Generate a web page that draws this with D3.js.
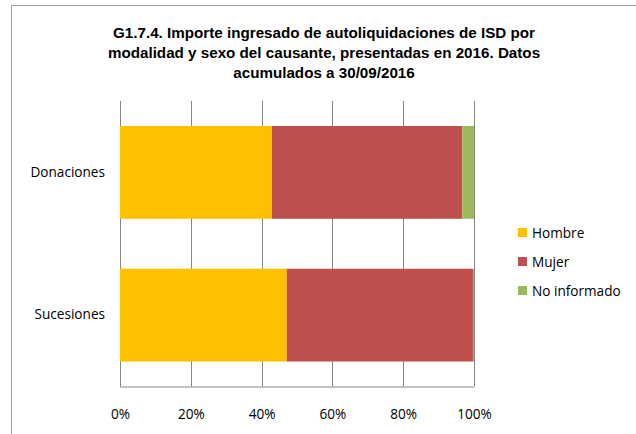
<!DOCTYPE html>
<html>
<head>
<meta charset="utf-8">
<script src="https://cdn.jsdelivr.net/npm/d3@7"></script>
<style>
  body { margin: 0; background: #fff; }
  svg { display: block; }
</style>
</head>
<body>
<div id="chart"></div>
<script>
// data
const categories = ["Donaciones", "Sucesiones"];
const seriesNames = ["Hombre", "Mujer", "No informado"];
const hombre = [42.9, 47.1];
const mujer = [53.8, 52.6];
const noInformado = [3.3, 0.3];
const xTicks = [0, 20, 40, 60, 80, 100];
const titleLines = [
    "G1.7.4. Importe ingresado de autoliquidaciones de ISD por",
    "modalidad y sexo del causante, presentadas en 2016. Datos",
    "acumulados a 30/09/2016"
];

const colors = ["#FFC000", "#C0504D", "#9BBB59"];
const gridColor = "#868686";
const labelFont = "Open Sans, sans-serif";
const labelSize = "13.6px";

const W = 636, H = 434;
const margin = {top: 101, left: 120, right: 162, bottom: 47};
const width = 474 - margin.left,
    height = 386.5 - margin.top;

const svg = d3.select("#chart")
    .append("svg")
    .attr("width", W)
    .attr("height", H);

// outer chart frame (only top/left visible in the crop)
svg.append("rect")
    .attr("x", 11.5)
    .attr("y", 5.5)
    .attr("width", 800)
    .attr("height", 600)
    .attr("fill", "none")
    .attr("stroke", "#a0a0a0")
    .attr("stroke-width", 1);

// title
const title = svg.append("text")
    .attr("text-anchor", "middle")
    .attr("font-family", "Liberation Sans, Arial, sans-serif")
    .attr("font-weight", "bold")
    .attr("font-size", "15.2px")
    .attr("fill", "#000");
titleLines.forEach((line, i) => {
    title.append("tspan")
        .attr("x", 324)
        .attr("y", 38 + i * 20)
        .text(line);
});

const g = svg.append("g")
    .attr("transform", `translate(${margin.left},${margin.top})`);

const x = d3.scaleLinear()
    .domain([0, 100])
    .range([0, width]);

const y = d3.scaleBand()
    .domain(categories)
    .range([0, height])
    .paddingInner(0.35)
    .paddingOuter(0.175);

// gridlines
g.append("g")
    .selectAll("line")
    .data(xTicks)
    .enter()
    .append("line")
    .attr("x1", d => Math.round(x(d)) + 0.5)
    .attr("x2", d => Math.round(x(d)) + 0.5)
    .attr("y1", 0)
    .attr("y2", height)
    .attr("stroke", gridColor)
    .attr("stroke-width", 1);

// stacked bars
const rows = categories.map((c, i) => ({
    cat: c,
    "Hombre": hombre[i],
    "Mujer": mujer[i],
    "No informado": noInformado[i]
}));
const stacked = d3.stack().keys(seriesNames)(rows);

g.selectAll("g.series")
    .data(stacked)
    .enter()
    .append("g")
    .attr("class", "series")
    .attr("fill", (d, i) => colors[i])
    .selectAll("rect")
    .data(d => d)
    .enter()
    .append("rect")
    .attr("x", d => x(d[0]))
    .attr("width", d => x(Math.min(d[1], 100)) - x(d[0]))
    .attr("y", d => y(d.data.cat))
    .attr("height", y.bandwidth());

// bottom axis line
g.append("line")
    .attr("x1", 0)
    .attr("x2", width)
    .attr("y1", height + 0.5)
    .attr("y2", height + 0.5)
    .attr("stroke", gridColor);

// x tick labels
const xAxis = g.append("g")
    .attr("transform", `translate(0,${height})`)
    .call(d3.axisBottom(x).tickValues(xTicks).tickFormat(d => d + "%").tickSize(0).tickPadding(23));
xAxis.select(".domain").remove();
xAxis.selectAll("text")
    .attr("font-family", labelFont)
    .attr("font-size", labelSize)
    .attr("fill", "#000");

// category labels
const yAxis = g.append("g")
    .call(d3.axisLeft(y).tickSize(0).tickPadding(15));
yAxis.select(".domain").remove();
yAxis.selectAll("text")
    .attr("font-family", labelFont)
    .attr("font-size", labelSize)
    .attr("fill", "#000");

// legend
const legend = svg.append("g")
    .attr("transform", "translate(518,228)");
seriesNames.forEach((name, i) => {
    const item = legend.append("g")
        .attr("transform", `translate(0,${i * 29})`);
    item.append("rect")
        .attr("width", 9)
        .attr("height", 9)
        .attr("fill", colors[i]);
    item.append("text")
        .attr("x", 14)
        .attr("y", 10)
        .attr("font-family", labelFont)
        .attr("font-size", labelSize)
        .attr("fill", "#000")
        .text(name);
});
</script>
</body>
</html>
